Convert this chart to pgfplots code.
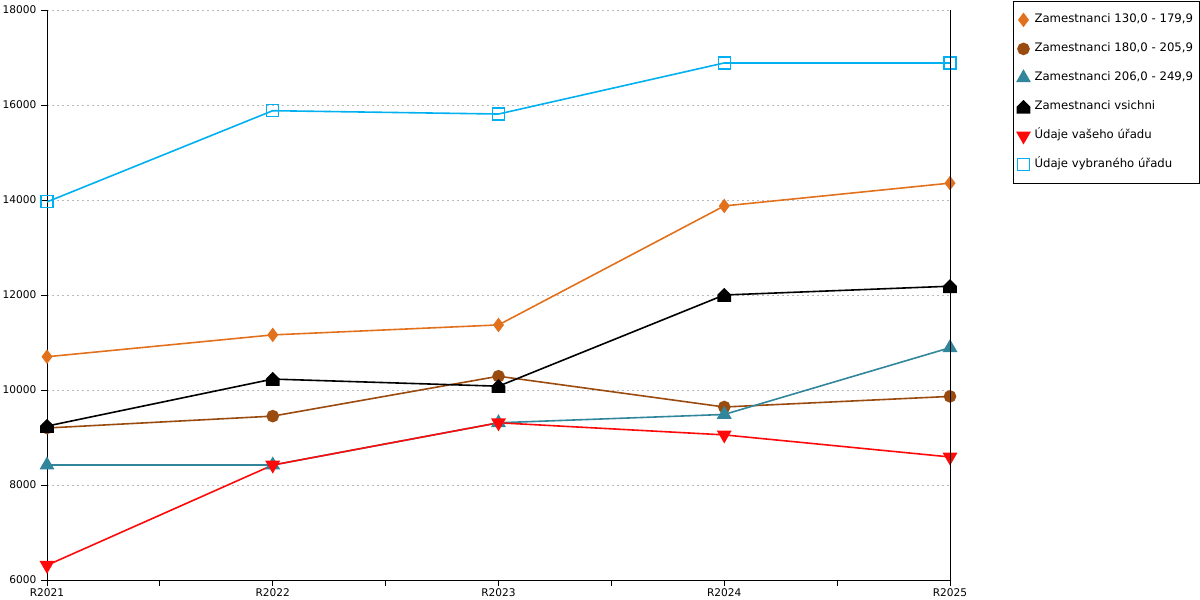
\documentclass[border=0pt]{standalone}
\usepackage{pgfplots}
\pgfplotsset{compat=1.18}
\usepackage{fontspec}
\setmainfont{DejaVu Sans}
\definecolor{corange}{HTML}{E2711D}
\definecolor{cbrown}{HTML}{9A4B10}
\definecolor{cteal}{HTML}{31869B}
\definecolor{cred}{HTML}{FF0A0A}
\definecolor{ccyan}{HTML}{00B0F0}
\pgfdeclareplotmark{house}{%
 \pgfpathmoveto{\pgfqpoint{-\pgfplotmarksize}{-\pgfplotmarksize}}%
 \pgfpathlineto{\pgfqpoint{\pgfplotmarksize}{-\pgfplotmarksize}}%
 \pgfpathlineto{\pgfqpoint{\pgfplotmarksize}{0pt}}%
 \pgfpathlineto{\pgfqpoint{0pt}{\pgfplotmarksize}}%
 \pgfpathlineto{\pgfqpoint{-\pgfplotmarksize}{0pt}}%
 \pgfpathclose
 \pgfusepathqfillstroke}
\begin{document}
\begin{tikzpicture}
\path[use as bounding box] (0,0) rectangle (1200pt,600pt);
\begin{axis}[
  at={(47pt,20pt)}, anchor=south west,
  scale only axis, width=903pt, height=570pt,
  xmin=0, xmax=4, ymin=6000, ymax=18000,
  xtick={0,1,2,3,4},
  xticklabels={R2021,R2022,R2023,R2024,R2025},
  minor xtick={0.5,1.5,2.5,3.5},
  ytick={6000,8000,10000,12000,14000,16000,18000},
  scaled y ticks=false,
  axis lines*=left,
  axis line style={-, line width=0.8pt},
  tick align=outside,
  major tick length=6pt, minor tick length=6pt,
  tick style={black, line width=0.8pt},
  ymajorgrids,
  major grid style={gray!55, line width=0.8pt, dash pattern=on 2pt off 3pt},
  /pgf/number format/assume math mode=true,
  /pgf/number format/1000 sep={},
  tick label style={font=\fontsize{10.6}{12}\selectfont},
  xticklabel style={yshift=1pt},
  yticklabel style={xshift=-1pt},
  every axis plot/.append style={line width=1.6pt, mark options={solid}},
  legend image code/.code={\draw[#1] plot[only marks] coordinates {(0pt,0pt)};},
  legend cell align=left,
  legend style={at={(1.0698,1.0158)}, anchor=north west, draw=black, line width=0.8pt,
    font=\fontsize{11.7}{14}\selectfont, inner xsep=4pt, inner ysep=10.8pt, row sep=13.6pt,
    nodes={inner sep=2pt, text height=8.8pt, text depth=2.6pt},
    /tikz/every odd column/.append style={column sep=3pt}},
  after end axis/.code={\draw[line width=0.8pt] (rel axis cs:1,0) -- (rel axis cs:1,1);},
  clip=false,
]
\addplot[corange, mark=diamond*, mark size=6pt, mark options={fill=corange, draw=corange}]
  coordinates {(0,10700) (1,11160) (2,11370) (3,13875) (4,14355)};
\addlegendentry{Zamestnanci 130,0 - 179,9}
\addplot[cbrown, mark=*, mark size=5.5pt, mark options={fill=cbrown, draw=cbrown}]
  coordinates {(0,9200) (1,9450) (2,10290) (3,9642) (4,9865)};
\addlegendentry{Zamestnanci 180,0 - 205,9}
\addplot[cteal, mark=triangle*, mark size=7pt, mark options={fill=cteal, draw=cteal}]
  coordinates {(0,8420) (1,8420) (2,9310) (3,9485) (4,10890)};
\addlegendentry{Zamestnanci 206,0 - 249,9}
\addplot[black, mark=house, mark size=6pt, mark options={fill=black, draw=black}]
  coordinates {(0,9240) (1,10230) (2,10080) (3,12000) (4,12185)};
\addlegendentry{Zamestnanci vsichni}
\addplot[cred, mark=triangle*, mark size=7pt, mark options={fill=cred, draw=cred, rotate=180}]
  coordinates {(0,6310) (1,8420) (2,9310) (3,9055) (4,8590)};
\addlegendentry{Údaje vašeho úřadu}
\addplot[ccyan, mark=square, mark size=6pt, mark options={fill=white, draw=ccyan, line width=1.2pt}]
  coordinates {(0,13960) (1,15880) (2,15810) (3,16885) (4,16885)};
\addlegendentry{Údaje vybraného úřadu}
\end{axis}
\end{tikzpicture}
\end{document}
